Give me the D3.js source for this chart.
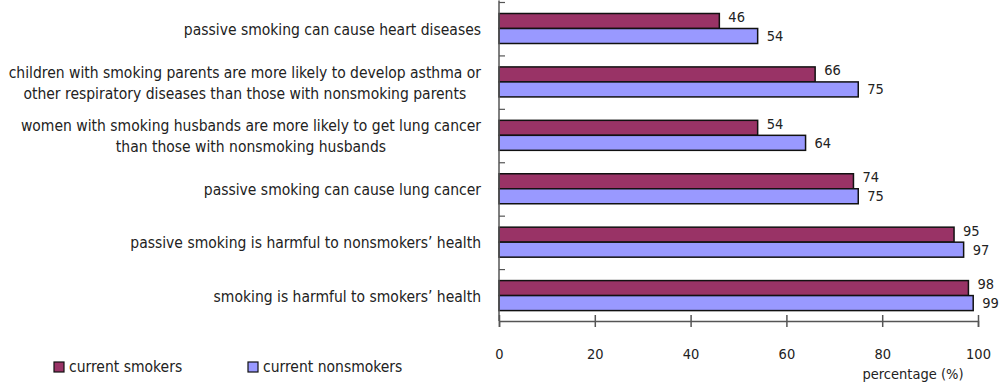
<!DOCTYPE html>
<html>
<head>
<meta charset="utf-8">
<script src="https://cdn.jsdelivr.net/npm/d3@7"></script>
<style>
  body { margin: 0; background: #fff; }
  svg text { font-family: "Liberation Sans Narrow", "DejaVu Sans Condensed", Arial, sans-serif; fill: #222; }
</style>
</head>
<body>
<svg id="chart" width="1000" height="384"></svg>
<script>
// categories, top to bottom (each entry = lines of the label)
var categories = [
    ["passive smoking can cause heart diseases"],
    ["children with smoking parents are more likely to develop asthma or", "other respiratory diseases than those with nonsmoking parents"],
    ["women with smoking husbands are more likely to get lung cancer", "than those with nonsmoking husbands"],
    ["passive smoking can cause lung cancer"],
    ["passive smoking is harmful to nonsmokers\u2019 health"],
    ["smoking is harmful to smokers\u2019 health"]
];
var smokers = [46, 66, 54, 74, 95, 98];
var nonsmokers = [54, 75, 64, 75, 97, 99];
var xTicks = [0, 20, 40, 60, 80, 100];
var seriesNames = ["current smokers", "current nonsmokers"];
var colors = ["#993366", "#9999ff"];

var svg = d3.select("svg#chart");
var labelSize = 15.5;
var numSize = 14.5;

var x = d3.scaleLinear().domain([0, 100]).range([499, 978]);
var y = d3.scaleBand()
    .domain(d3.range(categories.length))
    .range([0.5, 321]);

var barH = 15;
var barTop = 13;

// bars
var series = [smokers, nonsmokers];
series.forEach(function(vals, s) {
    svg.selectAll(".bar" + s)
        .data(vals)
        .enter().append("rect")
        .attr("class", "bar" + s)
        .attr("x", x(0))
        .attr("y", function(d, i) { return y(i) + barTop + s * barH; })
        .attr("width", function(d) { return x(d) - x(0); })
        .attr("height", barH)
        .attr("fill", colors[s])
        .attr("stroke", "#111")
        .attr("stroke-width", 1.5);

    svg.selectAll(".val" + s)
        .data(vals)
        .enter().append("text")
        .attr("class", "val" + s)
        .attr("x", function(d) { return x(d) + 9; })
        .attr("y", function(d, i) { return y(i) + barTop + s * barH + barH / 2 - (s == 0 ? 4 : 0); })
        .attr("dy", "0.35em")
        .style("font-size", numSize + "px")
        .text(function(d) { return d; });
});

// y axis line with inward ticks
svg.append("line")
    .attr("x1", x(0)).attr("x2", x(0))
    .attr("y1", y.range()[0]).attr("y2", y.range()[1])
    .attr("stroke", "#555").attr("stroke-width", 1.5);
svg.selectAll(".ytick")
    .data(d3.range(categories.length))
    .enter().append("line")
    .attr("x1", x(0)).attr("x2", x(0) + 6)
    .attr("y1", function(d) { return y(d) + 2; })
    .attr("y2", function(d) { return y(d) + 2; })
    .attr("stroke", "#555").attr("stroke-width", 1.2);

// x axis
var xAxis = svg.append("g")
    .attr("transform", "translate(0,321)")
    .call(d3.axisBottom(x).tickValues(xTicks).tickSize(6).tickPadding(22));
xAxis.select(".domain").attr("stroke", "#555").attr("stroke-width", 1.5);
xAxis.selectAll(".tick line").attr("stroke", "#555").attr("stroke-width", 1.5).attr("y1", -6);
xAxis.selectAll(".tick text")
    .style("font-size", numSize + "px")
    .style("font-family", null)
    .attr("fill", "#222");

svg.append("text")
    .attr("x", 913).attr("y", 374)
    .attr("dy", "0.35em")
    .attr("text-anchor", "middle")
    .style("font-size", numSize + "px")
    .text("percentage (%)");

// category labels: multi-line blocks centered, right edge at 481
var labelRight = 481;
categories.forEach(function(lines, i) {
    var g = svg.append("g");
    var cy = y(i) + y.bandwidth() / 2 + 2;
    var lh = 21;
    var texts = lines.map(function(l, j) {
        return g.append("text")
            .attr("y", cy + (j - (lines.length - 1) / 2) * lh)
            .attr("dy", "0.35em")
            .style("font-size", labelSize + "px")
            .text(l);
    });
    var maxW = d3.max(texts, function(t) { return t.node().getComputedTextLength(); });
    texts.forEach(function(t) {
        t.attr("x", labelRight - maxW / 2).attr("text-anchor", "middle");
    });
});

// legend
var legX = [54, 248];
seriesNames.forEach(function(name, s) {
    svg.append("rect")
        .attr("x", legX[s]).attr("y", 362)
        .attr("width", 10).attr("height", 10)
        .attr("fill", colors[s])
        .attr("stroke", "#111").attr("stroke-width", 1.2);
    svg.append("text")
        .attr("x", legX[s] + 15).attr("y", 367)
        .attr("dy", "0.35em")
        .style("font-size", labelSize + "px")
        .text(name);
});
</script>
</body>
</html>
